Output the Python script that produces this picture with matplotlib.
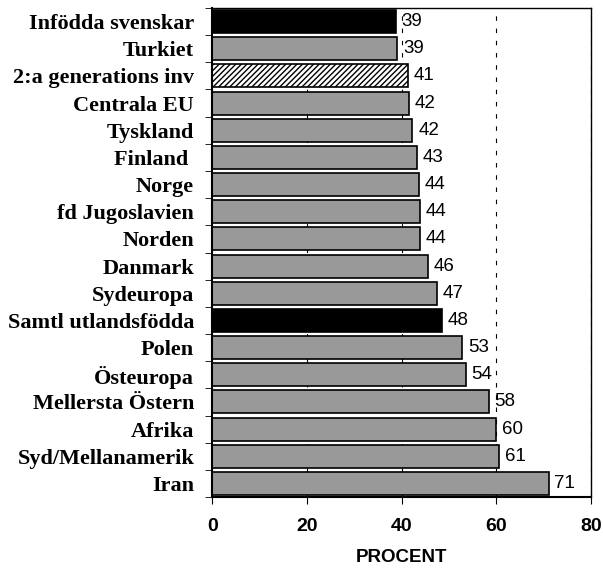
import numpy as np
import matplotlib.pyplot as plt

categories = [
    "Infödda svenskar", "Turkiet", "2:a generations inv", "Centrala EU",
    "Tyskland", "Finland ", "Norge", "fd Jugoslavien", "Norden", "Danmark",
    "Sydeuropa", "Samtl utlandsfödda", "Polen", "Östeuropa",
    "Mellersta Östern", "Afrika", "Syd/Mellanamerik", "Iran",
]
values = [38.8, 39.1, 41.4, 41.6, 42.3, 43.2, 43.7, 43.8, 43.8, 45.6,
          47.5, 48.6, 52.8, 53.5, 58.4, 60.0, 60.6, 71.1]
labels = [39, 39, 41, 42, 42, 43, 44, 44, 44, 46, 47, 48, 53, 54, 58, 60, 61, 71]
black_rows = ["Infödda svenskar", "Samtl utlandsfödda"]
hatch_rows = ["2:a generations inv"]

fig = plt.figure(figsize=(6.03, 5.70), dpi=100)
ax = fig.add_axes([0.352, 0.128, 0.628, 0.858])

y = np.arange(len(categories))
for i, (cat, v) in enumerate(zip(categories, values)):
    if cat in black_rows:
        ax.barh(i, v, height=0.85, color="black", edgecolor="black", linewidth=1.2, zorder=2)
    elif cat in hatch_rows:
        ax.barh(i, v, height=0.85, color="white", edgecolor="black", hatch="//////",
                linewidth=1.2, zorder=2)
    else:
        ax.barh(i, v, height=0.85, color="#999999", edgecolor="black", linewidth=1.2, zorder=2)
    ax.text(v + 1.2, i, str(labels[i]), va="center", ha="left",
            fontsize=13.5, family="Liberation Sans")

ax.set_xlim(0, 80)
ax.set_ylim(len(categories) - 0.5, -0.5)
ax.set_xticks([0, 20, 40, 60, 80])
ax.set_xticklabels(["0", "20", "40", "60", "80"], fontsize=14,
                   fontweight="bold", family="Liberation Sans")
ax.set_yticks(y)
ax.set_yticklabels(categories, fontsize=16, fontweight="bold", family="Liberation Serif")
ax.tick_params(axis="y", length=0, pad=13)
ax.set_yticks(np.arange(len(categories) + 1) - 0.5, minor=True)
ax.tick_params(axis="y", which="minor", length=5, direction="out")
ax.tick_params(axis="x", length=5, direction="out", pad=10)
ax.xaxis.grid(True, linestyle=(0, (4, 7)), color="black", linewidth=0.8, zorder=0)
ax.set_axisbelow(True)
ax.set_xlabel("PROCENT", fontsize=13.5, fontweight="bold", family="Liberation Sans", labelpad=10)

for s in ["left", "bottom"]:
    ax.spines[s].set_linewidth(1.5)
for s in ["top", "right"]:
    ax.spines[s].set_linewidth(1.0)

fig.savefig("out.png", dpi=100)
